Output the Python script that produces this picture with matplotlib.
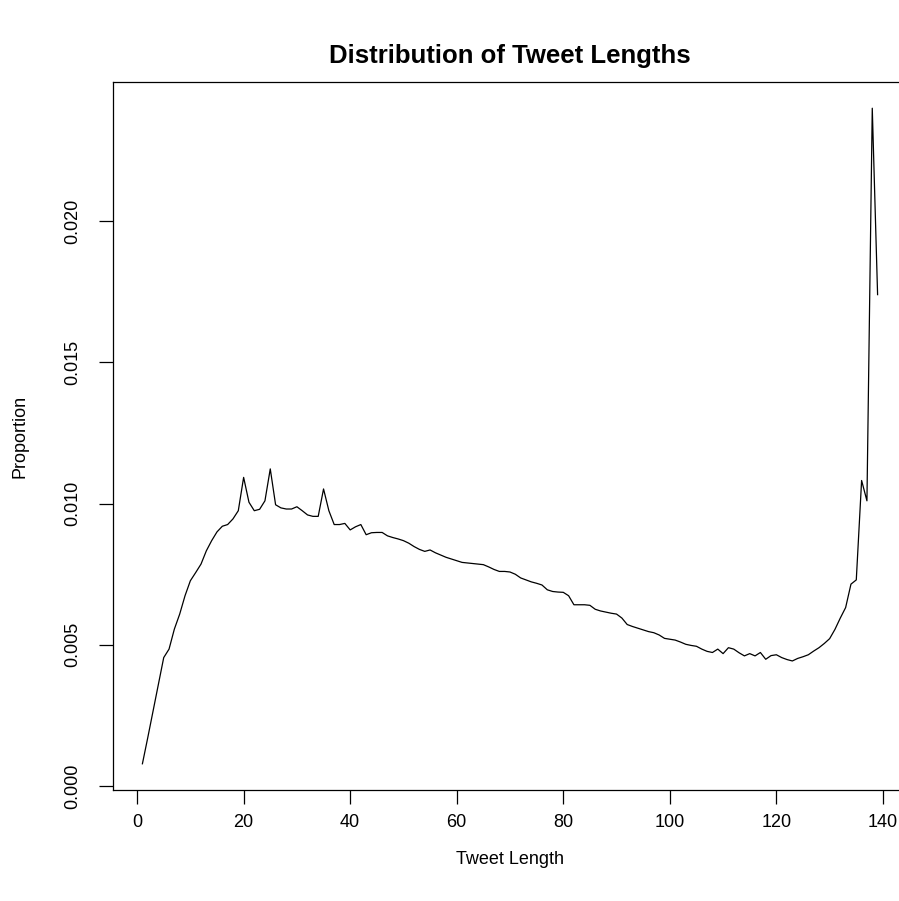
import matplotlib
matplotlib.use("Agg")
import matplotlib.pyplot as plt
import numpy as np

plt.rcParams['font.family'] = ['Liberation Sans', 'DejaVu Sans']

tweet_length = list(range(1, 140))
proportion = [
    0.00079, 0.00171, 0.00266, 0.00360, 0.00455, 0.00485, 0.00556, 0.00609, 0.00674, 0.00727,
    0.00756, 0.00786, 0.00833, 0.00869, 0.00900, 0.00920, 0.00926, 0.00946, 0.00975, 0.01093,
    0.01005, 0.00975, 0.00980, 0.01010, 0.01123, 0.00996, 0.00985, 0.00981, 0.00981, 0.00989,
    0.00975, 0.00960, 0.00955, 0.00955, 0.01052, 0.00975, 0.00926, 0.00926, 0.00930, 0.00907,
    0.00918, 0.00926, 0.00890, 0.00897, 0.00898, 0.00898, 0.00886, 0.00880, 0.00875, 0.00869,
    0.00860, 0.00848, 0.00838, 0.00831, 0.00836, 0.00826, 0.00818, 0.00810, 0.00804, 0.00798,
    0.00792, 0.00790, 0.00788, 0.00786, 0.00784, 0.00776, 0.00767, 0.00760, 0.00760, 0.00758,
    0.00750, 0.00737, 0.00730, 0.00723, 0.00718, 0.00712, 0.00695, 0.00689, 0.00687, 0.00686,
    0.00674, 0.00642, 0.00642, 0.00642, 0.00640, 0.00626, 0.00620, 0.00616, 0.00612, 0.00609,
    0.00595, 0.00572, 0.00565, 0.00559, 0.00553, 0.00547, 0.00543, 0.00535, 0.00523, 0.00520,
    0.00517, 0.00510, 0.00502, 0.00498, 0.00495, 0.00485, 0.00477, 0.00473, 0.00485, 0.00469,
    0.00490, 0.00485, 0.00472, 0.00461, 0.00469, 0.00461, 0.00473, 0.00449, 0.00462, 0.00465,
    0.00455, 0.00448, 0.00443, 0.00452, 0.00458, 0.00465, 0.00478, 0.00490, 0.00505, 0.00522,
    0.00555, 0.00595, 0.00632, 0.00715, 0.00730, 0.01082, 0.01010, 0.02400, 0.01740,
]
x_ticks = [0, 20, 40, 60, 80, 100, 120, 140]
y_ticks = [0.000, 0.005, 0.010, 0.015, 0.020]
y_tick_labels = ["0.000", "0.005", "0.010", "0.015", "0.020"]

W, H = 899, 901
fig = plt.figure(figsize=(W / 100, H / 100), dpi=100)
left, right, top, bottom = 113, 907, 82, 790
ax = fig.add_axes([left / W, (H - bottom) / H, (right - left) / W, (bottom - top) / H])

ax.plot(tweet_length, proportion, color='black', linewidth=0.9)

# R-style 4% padding
xr = max(tweet_length) - min(tweet_length)
yr = max(proportion) - min(proportion)
ax.set_xlim(min(tweet_length) - 0.04 * xr, max(tweet_length) + 0.04 * xr)
ax.set_ylim(min(proportion) - 0.04 * yr, max(proportion) + 0.04 * yr)

ax.set_xticks(x_ticks)
ax.set_xticklabels([str(t) for t in x_ticks])
ax.set_yticks(y_ticks)
ax.set_yticklabels(y_tick_labels, rotation=90, va='center')

for s in ax.spines.values():
    s.set_linewidth(0.9)
    s.set_color('black')

ax.tick_params(axis='both', direction='out', length=10, width=0.9, labelsize=13, colors='black')
ax.tick_params(axis='x', pad=7)
ax.tick_params(axis='y', pad=13)

ax.set_title("Distribution of Tweet Lengths", fontsize=18.5, fontweight='bold', pad=14)
ax.set_xlabel("Tweet Length", fontsize=13)
ax.set_ylabel("Proportion", fontsize=13)
ax.xaxis.label.set_va('center')
ax.yaxis.label.set_va('center')
ax.xaxis.set_label_coords(0.5, (bottom - 860) / (bottom - top))
ax.yaxis.set_label_coords((20 - left) / (right - left), 0.5)

fig.savefig("out.png", dpi=100, facecolor='white')
